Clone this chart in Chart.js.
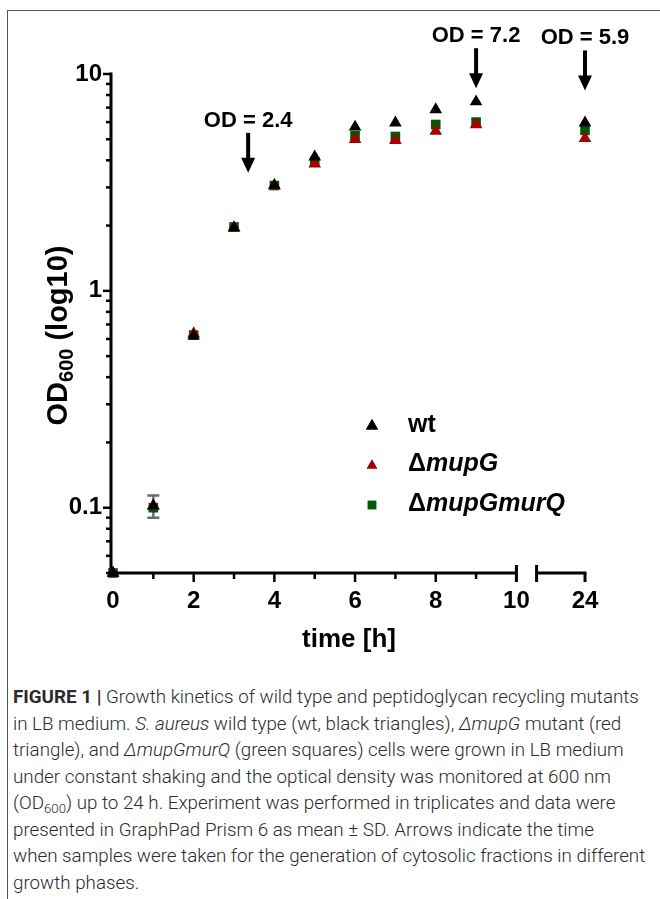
<!DOCTYPE html>
<html>
<head>
<meta charset="utf-8">
<script src="https://cdn.jsdelivr.net/npm/chart.js@4.4.1/dist/chart.umd.min.js"></script>
<style>
  body { margin: 0; background: #fff; }
  #page { position: relative; width: 660px; height: 899px; overflow: hidden; }
  #frame { position: absolute; left: 7px; top: 10px; width: 670px; height: 900px;
           border-left: 1px solid #555; border-top: 1px solid #555; }
  #chartBox { position: absolute; left: 0; top: 0; width: 660px; height: 680px; }
  #caption { position: absolute; left: 13px; top: 684px; font-family: Roboto, "Liberation Sans", sans-serif;
             font-weight: 300; font-size: 18.8px; line-height: 26.5px; color: #2b2b2b; white-space: nowrap; }
  #caption b { font-weight: 700; }
  #caption sub { font-size: 0.7em; line-height: 0; vertical-align: -0.3em; }
</style>
</head>
<body>
<div id="page">
  <div id="frame"></div>
  <div id="chartBox"><canvas id="growth" width="660" height="680"></canvas></div>
  <div id="caption">
    <b>FIGURE 1 |</b> Growth kinetics of wild type and peptidoglycan recycling mutants<br>
    in LB medium. <i>S. aureus</i> wild type (wt, black triangles), <i>ΔmupG</i> mutant (red<br>
    triangle), and <i>ΔmupGmurQ</i> (green squares) cells were grown in LB medium<br>
    under constant shaking and the optical density was monitored at 600 nm<br>
    (OD<sub>600</sub>) up to 24 h. Experiment was performed in triplicates and data were<br>
    presented in GraphPad Prism 6 as mean ± SD. Arrows indicate the time<br>
    when samples were taken for the generation of cytosolic fractions in different<br>
    growth phases.
  </div>
</div>
<script>
// time points (h) and OD600 means
var times = [0, 1, 2, 3, 4, 5, 6, 7, 8, 9, 24];
var wt = [0.05, 0.102, 0.62, 1.95, 3.07, 4.15, 5.7, 5.95, 6.85, 7.45, 5.95];
var mupG = [0.05, 0.102, 0.635, 1.96, 3.05, 3.85, 5.0, 4.95, 5.45, 5.85, 5.05];
var mupGmurQ = [0.05, 0.1, 0.625, 1.97, 3.06, 3.95, 5.2, 5.15, 5.85, 6.0, 5.5];
var wtSD = [0, 0.012, 0, 0, 0, 0, 0, 0, 0, 0, 0];

var xTickTimes = [0, 2, 4, 6, 8, 10, 24];
var yTickValues = [0.1, 1, 10];
var yTickLabels = ['0.1', '1', '10'];

var arrowTimes = [3.35, 9, 24];
var arrowTips = [3.5, 8.6, 8.4];
var arrowLabels = ['OD = 2.4', 'OD = 7.2', 'OD = 5.9'];

// broken x axis: 0-10 h, gap, then a short piece ending at 24 h
var breakAt = 10, breakGap = 0.5, secondStart = 22.8;
function pos(t) { return t <= breakAt ? t : breakAt + breakGap + (t - secondStart); }

var FONT = '"Liberation Sans", Arial, sans-serif';

function pts(vals) {
  return vals.map(function (v, i) { return { x: pos(times[i]), y: v }; });
}

var axesPlugin = {
  id: 'prismAxes',
  beforeDatasetsDraw: function (chart) {
    var ctx = chart.ctx, xs = chart.scales.x, ys = chart.scales.y;
    // error bars
    ctx.save();
    ctx.strokeStyle = '#6b6b6b';
    ctx.lineWidth = 2.5;
    wtSD.forEach(function (sd, i) {
      if (!sd) return;
      var px = xs.getPixelForValue(pos(times[i]));
      var y1 = ys.getPixelForValue(wt[i] + sd), y2 = ys.getPixelForValue(wt[i] - sd);
      ctx.beginPath();
      ctx.moveTo(px, y1); ctx.lineTo(px, y2);
      ctx.moveTo(px - 6, y1); ctx.lineTo(px + 6, y1);
      ctx.moveTo(px - 6, y2); ctx.lineTo(px + 6, y2);
      ctx.stroke();
    });
    ctx.restore();
  },
  afterDraw: function (chart) {
    var ctx = chart.ctx, xs = chart.scales.x, ys = chart.scales.y;
    var a = chart.chartArea;
    var ax = a.left - 2, ay = a.bottom;
    ctx.save();
    ctx.strokeStyle = '#000';
    ctx.fillStyle = '#000';
    ctx.lineWidth = 3;
    ctx.lineCap = 'butt';

    // y axis
    ctx.beginPath();
    ctx.moveTo(ax, ys.getPixelForValue(10) - 1.5);
    ctx.lineTo(ax, ay + 4);
    ctx.stroke();
    ctx.lineWidth = 2.5;
    [0.01, 0.1, 1].forEach(function (dec) {
      for (var m = 1; m <= 9; m++) {
        var v = dec * m;
        if (v < 0.05 || v > 10) continue;
        var py = ys.getPixelForValue(v);
        var len = (m === 1) ? 8 : 5;
        ctx.beginPath(); ctx.moveTo(ax, py); ctx.lineTo(ax - len, py); ctx.stroke();
      }
    });
    var py10 = ys.getPixelForValue(10);
    ctx.beginPath(); ctx.moveTo(ax, py10); ctx.lineTo(ax - 8, py10); ctx.stroke();

    // x axis with break
    var xb1 = xs.getPixelForValue(breakAt);
    var xb2 = xs.getPixelForValue(breakAt + breakGap);
    var xend = xs.getPixelForValue(pos(24));
    ctx.lineWidth = 3;
    ctx.beginPath();
    ctx.moveTo(ax - 1.5, ay); ctx.lineTo(xb1, ay);
    ctx.moveTo(xb2, ay); ctx.lineTo(xend + 1.5, ay);
    ctx.stroke();
    ctx.lineWidth = 2.5;
    for (var t = 1; t < breakAt; t++) {
      var px = xs.getPixelForValue(t);
      ctx.beginPath(); ctx.moveTo(px, ay); ctx.lineTo(px, ay + (t % 2 ? 6 : 9)); ctx.stroke();
    }
    ctx.lineWidth = 3;
    [xb1, xb2].forEach(function (px) {
      ctx.beginPath(); ctx.moveTo(px, ay - 8); ctx.lineTo(px, ay + 9); ctx.stroke();
    });
    ctx.beginPath(); ctx.moveTo(xend, ay); ctx.lineTo(xend, ay + 9); ctx.stroke();

    // axis titles
    ctx.font = 'bold 26px ' + FONT;
    ctx.textAlign = 'center';
    ctx.textBaseline = 'middle';
    ctx.fillText('time [h]', (a.left + a.right) / 2, a.bottom + 67);

    ctx.save();
    ctx.translate(57, (a.top + a.bottom) / 2 + 12);
    ctx.rotate(-Math.PI / 2);
    ctx.textAlign = 'left';
    ctx.textBaseline = 'alphabetic';
    var big = 'bold 29px ' + FONT, small = 'bold 20px ' + FONT;
    ctx.font = big; var w1 = ctx.measureText('OD').width, w3 = ctx.measureText(' (log10)').width;
    ctx.font = small; var w2 = ctx.measureText('600').width;
    var x0 = -(w1 + w2 + w3) / 2;
    ctx.font = big; ctx.fillText('OD', x0, 10);
    ctx.font = small; ctx.fillText('600', x0 + w1, 16);
    ctx.font = big; ctx.fillText(' (log10)', x0 + w1 + w2, 10);
    ctx.restore();

    // arrows marking sampling times
    ctx.font = 'bold 22px ' + FONT;
    ctx.textAlign = 'center';
    arrowTimes.forEach(function (t, i) {
      var px = xs.getPixelForValue(pos(t));
      var tip = ys.getPixelForValue(arrowTips[i]);
      var top = tip - 40;
      ctx.lineWidth = 4;
      ctx.beginPath(); ctx.moveTo(px, top); ctx.lineTo(px, tip - 12); ctx.stroke();
      ctx.beginPath();
      ctx.moveTo(px - 7, tip - 15); ctx.lineTo(px + 7, tip - 15); ctx.lineTo(px, tip);
      ctx.closePath(); ctx.fill();
      ctx.fillText(arrowLabels[i], px, top - 12);
    });

    // legend inside the plot
    var lx = a.left + 259, ly = a.top + 351, gap = 39.5;
    chart.data.datasets.forEach(function (ds, i) {
      var cy = ly + i * gap;
      ctx.fillStyle = ds.backgroundColor;
      ctx.beginPath();
      Chart.helpers.drawPoint(ctx, { pointStyle: ds.pointStyle, radius: ds.legendRadius, borderWidth: 0 }, lx, cy + 1);
      ctx.fill();
      ctx.fillStyle = '#000';
      ctx.textAlign = 'left';
      var tx = lx + 36;
      if (ds.label.charAt(0) === 'Δ') {
        ctx.font = 'bold 25px ' + FONT;
        ctx.fillText('Δ', tx, cy);
        var dw = ctx.measureText('Δ').width;
        ctx.font = 'italic bold 25px ' + FONT;
        ctx.fillText(ds.label.slice(1), tx + dw, cy);
      } else {
        ctx.font = 'bold 25px ' + FONT;
        ctx.fillText(ds.label, tx, cy);
      }
    });
    ctx.restore();
  }
};

var ctx = document.getElementById('growth').getContext('2d');
var chart = new Chart(ctx, {
  type: 'scatter',
  data: {
    datasets: [
      { label: 'wt', data: pts(wt), pointStyle: 'triangle', pointRadius: 7.3, legendRadius: 7,
        backgroundColor: '#000000', borderColor: '#000000', borderWidth: 0, clip: false },
      { label: 'ΔmupG', data: pts(mupG), pointStyle: 'triangle', pointRadius: 7.3, legendRadius: 6,
        backgroundColor: '#a80000', borderColor: '#a80000', borderWidth: 0, clip: false },
      { label: 'ΔmupGmurQ', data: pts(mupGmurQ), pointStyle: 'rect', pointRadius: 6.8, legendRadius: 6,
        backgroundColor: '#005a00', borderColor: '#005a00', borderWidth: 0, clip: false }
    ]
  },
  options: {
    responsive: false,
    animation: false,
    devicePixelRatio: 1,
    layout: { padding: { top: 74, right: 75, left: 0, bottom: 0 } },
    plugins: { legend: { display: false }, tooltip: { enabled: false } },
    scales: {
      x: {
        type: 'linear', min: 0, max: pos(24),
        grid: { display: true, color: 'rgba(0,0,0,0)', drawTicks: true, tickLength: 9 },
        border: { display: false },
        afterBuildTicks: function (s) { s.ticks = xTickTimes.map(function (t) { return { value: pos(t) }; }); },
        afterFit: function (s) { s.height = 107; },
        ticks: {
          autoSkip: false, maxRotation: 0, padding: 5, color: '#000',
          font: { family: FONT, size: 24, weight: 'bold' },
          callback: function (v, i) { return String(xTickTimes[i]); }
        }
      },
      y: {
        type: 'logarithmic', min: 0.05, max: 10,
        grid: { display: true, color: 'rgba(0,0,0,0)', drawTicks: true, tickLength: 8 },
        border: { display: false },
        afterBuildTicks: function (s) { s.ticks = yTickValues.map(function (v) { return { value: v }; }); },
        afterFit: function (s) { s.width = 113; },
        ticks: {
          autoSkip: false, padding: 3, color: '#000',
          font: { family: FONT, size: 24, weight: 'bold' },
          callback: function (v, i) { return yTickLabels[i]; }
        }
      }
    }
  },
  plugins: [axesPlugin]
});
</script>
</body>
</html>
